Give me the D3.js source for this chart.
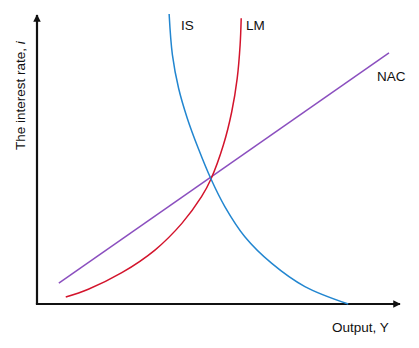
<!DOCTYPE html>
<html>
<head>
<meta charset="utf-8">
<script src="https://cdn.jsdelivr.net/npm/d3@7"></script>
<style>
  html, body { margin: 0; padding: 0; background: #fff; }
  svg { display: block; }
  text { font-family: "Liberation Sans", Arial, sans-serif; fill: #111; }
</style>
</head>
<body>
<svg id="chart" width="419" height="348"></svg>
<script>
// Curve data (output Y on x, interest rate i on y), arbitrary 0-100 units
const isX  = [36.3, 37.2, 38.9, 41.3, 44.3, 47.8, 51.6, 57.1, 64.5, 73.6, 85.5];
const isY  = [100,  85.9, 74.4, 64.0, 53.7, 43.1, 33.6, 23.2, 14.0, 6.0,  0];
const lmX  = [7.9, 14.1, 23.3, 32.4, 39.8, 45.2, 47.8, 51.2, 53.5, 55.0, 55.8, 56.1];
const lmY  = [2.4, 5.1,  10.8, 18.6, 27.8, 37.0, 43.1, 54.8, 66.3, 77.8, 89.3, 98.5];
const nacX = [6.0, 96.7];
const nacY = [7.2, 86.6];
const curveLabels = ["IS", "LM", "NAC"];
const axisTitles = ["Output, Y", "The interest rate, "];

const svg = d3.select("#chart");
const x = d3.scaleLinear().domain([0, 100]).range([37, 401]);
const y = d3.scaleLinear().domain([0, 100]).range([304, 14]);

// Arrow marker
const defs = svg.append("defs");
defs.append("marker")
  .attr("id", "arrow")
  .attr("viewBox", "0 0 10 10")
  .attr("refX", 9).attr("refY", 5)
  .attr("markerWidth", 3.4).attr("markerHeight", 3.4)
  .attr("markerUnits", "strokeWidth")
  .attr("orient", "auto")
  .append("path").attr("d", "M0,0 L10,5 L0,10 z").attr("fill", "#111");

// Axes
svg.append("line")
  .attr("x1", x(0)).attr("y1", y(0)).attr("x2", x(0)).attr("y2", y(100) + 1)
  .attr("stroke", "#111").attr("stroke-width", 2.2).attr("marker-end", "url(#arrow)");
svg.append("line")
  .attr("x1", x(0) - 1.1).attr("y1", y(0)).attr("x2", x(100) - 1).attr("y2", y(0))
  .attr("stroke", "#111").attr("stroke-width", 2.2).attr("marker-end", "url(#arrow)");

const line = d3.line()
  .x(d => x(d[0])).y(d => y(d[1]))
  .curve(d3.curveCatmullRom.alpha(0.5));

const series = [
  { xs: nacX, ys: nacY, color: "#8b4fbf" },
  { xs: lmX,  ys: lmY,  color: "#d3142c" },
  { xs: isX,  ys: isY,  color: "#2286d0" }
];
series.forEach(s => {
  svg.append("path")
    .datum(s.xs.map((v, i) => [v, s.ys[i]]))
    .attr("d", line)
    .attr("fill", "none")
    .attr("stroke", s.color)
    .attr("stroke-width", 1.5);
});

// Curve labels
const fs = "13.5px";
svg.append("text").attr("x", 181).attr("y", 30).style("font-size", fs).text(curveLabels[0]);
svg.append("text").attr("x", 246).attr("y", 30).style("font-size", fs).text(curveLabels[1]);
svg.append("text").attr("x", 377).attr("y", 81).style("font-size", fs).text(curveLabels[2]);

// Axis titles
svg.append("text").attr("x", 332).attr("y", 332).style("font-size", fs).text(axisTitles[0]);
const yt = svg.append("text")
  .attr("transform", "translate(25,150) rotate(-90)")
  .style("font-size", fs);
yt.append("tspan").text(axisTitles[1]);
yt.append("tspan").style("font-style", "italic").text("i");
</script>
</body>
</html>
